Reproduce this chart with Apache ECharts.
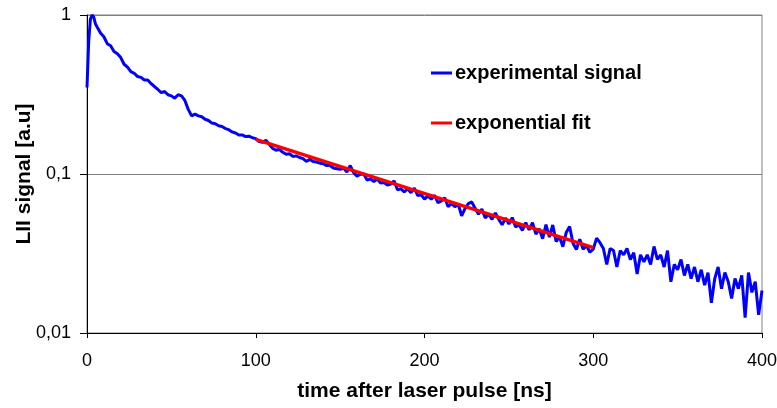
<!DOCTYPE html>
<html>
<head>
<meta charset="utf-8">
<script src="https://cdn.jsdelivr.net/npm/echarts@6/dist/echarts.min.js"></script>
<style>
  html, body { margin: 0; padding: 0; background: #fff; }
  #chart { width: 777px; height: 408px; }
</style>
</head>
<body>
<div id="chart"></div>
<script>
// time after laser pulse [ns]
const sigTime = [0, 1, 2, 3, 4, 5, 6, 8, 10, 12, 14, 16, 18, 20, 22, 24, 26, 28, 30, 32, 34, 36, 38, 40,
  42, 44, 46, 48, 50, 52, 54, 56, 58, 60, 62, 64, 66, 68, 70, 72, 74, 76, 78, 80, 82, 84, 86, 88, 90,
  92, 94, 96, 98, 100, 102, 104, 106, 108, 110, 112, 114, 116, 118, 120, 122, 124, 126, 128, 130,
  132, 134, 136, 138, 140, 142, 144, 146, 148, 150, 152, 154, 156, 158, 160, 162, 164, 166, 168, 170,
  172, 174, 176, 178, 180, 182, 184, 186, 188, 190, 192, 194, 196, 198, 200, 202, 204, 206, 208, 210,
  212, 214, 216, 218, 220, 222, 224, 226, 228, 230, 232, 234, 236, 238, 240, 242, 244, 246, 248, 250,
  252, 254, 256, 258, 260, 262, 264, 266, 268, 270, 272, 274, 276, 278, 280, 282, 284, 286, 288, 290,
  292, 294, 296, 298, 300, 302, 304, 306, 308, 310, 312, 314, 316, 318, 320, 322, 324, 326, 328, 330,
  332, 334, 336, 338, 340, 342, 344, 346, 348, 350, 352, 354, 356, 358, 360, 362, 364, 366, 368, 370,
  372, 374, 376, 378, 380, 382, 384, 386, 388, 390, 392, 394, 396, 398, 400]
// experimental signal [a.u]
const sigValue = [0.35, 0.68, 0.94, 1.0, 0.97, 0.88, 0.84, 0.77, 0.73, 0.66, 0.64, 0.59, 0.57, 0.54, 0.49, 0.47,
  0.44, 0.43, 0.41, 0.405, 0.39, 0.39, 0.37, 0.355, 0.34, 0.325, 0.33, 0.315, 0.31, 0.30, 0.315, 0.31,
  0.29, 0.255, 0.232, 0.238, 0.232, 0.229, 0.221, 0.217, 0.209, 0.207, 0.201, 0.199, 0.193, 0.190,
  0.184, 0.181, 0.176, 0.176, 0.172, 0.173, 0.169, 0.167, 0.160, 0.158, 0.163, 0.154, 0.145, 0.141,
  0.143, 0.137, 0.133, 0.134, 0.129, 0.130, 0.127, 0.125, 0.120, 0.124, 0.120, 0.119, 0.117, 0.116,
  0.113, 0.113, 0.109, 0.108, 0.107, 0.109, 0.103, 0.113, 0.102, 0.097, 0.0997, 0.100, 0.0916, 0.0931,
  0.0898, 0.0931, 0.0879, 0.0884, 0.0852, 0.0865, 0.0904, 0.0795, 0.0808, 0.0771, 0.0808, 0.0763,
  0.0815, 0.0731, 0.0743, 0.0695, 0.0728, 0.0694, 0.0734, 0.0659, 0.0677, 0.0708, 0.0622, 0.0653,
  0.0622, 0.0645, 0.0546, 0.0606, 0.0652, 0.0667, 0.0608, 0.0558, 0.0601, 0.0529, 0.056, 0.0518,
  0.057, 0.0518, 0.0479, 0.0528, 0.0485, 0.0532, 0.0464, 0.0481, 0.0441, 0.0495, 0.0445, 0.0494,
  0.0419, 0.0452, 0.0392, 0.048, 0.0401, 0.0478, 0.0376, 0.0403, 0.0349, 0.0429, 0.0468, 0.0367,
  0.0335, 0.0389, 0.0336, 0.0355, 0.0322, 0.0337, 0.0395, 0.037, 0.034, 0.027, 0.034, 0.033, 0.026,
  0.033, 0.031, 0.034, 0.029, 0.032, 0.0235, 0.031, 0.028, 0.031, 0.027, 0.035, 0.029, 0.031, 0.026,
  0.033, 0.021, 0.027, 0.025, 0.029, 0.023, 0.027, 0.022, 0.026, 0.021, 0.025, 0.020, 0.024, 0.0155,
  0.022, 0.026, 0.019, 0.024, 0.021, 0.0165, 0.022, 0.019, 0.023, 0.0125, 0.024, 0.018, 0.021, 0.013,
  0.0185]
// exponential fit, end points (straight on log axis)
const fitTime = [100, 300]
const fitValue = [0.165, 0.0344]

const xTicks = [0, 100, 200, 300, 400]

const font = '"Liberation Sans", Arial, sans-serif'

const chart = echarts.init(document.getElementById('chart'), null, { renderer: 'canvas' })

chart.setOption({
  animation: false,
  backgroundColor: '#fff',
  grid: {
    left: 87, right: 15, top: 15, bottom: 75,
    outerBoundsMode: 'none',
    containLabel: false,
    show: true, borderColor: '#808080', borderWidth: 1
  },
  legend: {
    orient: 'vertical',
    left: 431, top: 63,
    padding: 0,
    itemWidth: 21, itemHeight: 3, itemGap: 30,
    icon: 'rect',
    textStyle: { fontFamily: font, fontSize: 20, fontWeight: 'bold', color: '#000', padding: [0, 0, 0, -2] },
    data: ['experimental signal', 'exponential fit']
  },
  xAxis: {
    type: 'value',
    min: xTicks[0], max: xTicks[xTicks.length - 1], interval: 100,
    name: 'time after laser pulse [ns]',
    nameLocation: 'middle', nameGap: 48, nameMoveOverlap: false,
    nameTextStyle: { fontFamily: font, fontSize: 21, fontWeight: 'bold', color: '#000' },
    axisLine: { lineStyle: { color: '#000', width: 1 } },
    axisTick: { show: true, length: 5, lineStyle: { color: '#000' } },
    axisLabel: { fontFamily: font, fontSize: 18, color: '#000', margin: 19 },
    splitLine: { show: false }
  },
  yAxis: {
    type: 'log', logBase: 10,
    min: 0.01, max: 1,
    name: 'LII signal [a.u]',
    nameLocation: 'middle', nameGap: 52, nameRotate: 90, nameMoveOverlap: false,
    nameTextStyle: { fontFamily: font, fontSize: 21, fontWeight: 'bold', color: '#000' },
    axisLine: { show: true, lineStyle: { color: '#000', width: 1 } },
    axisTick: { show: true, length: 7, lineStyle: { color: '#000' } },
    minorTick: { show: false },
    axisLabel: {
      fontFamily: font, fontSize: 18, color: '#000', margin: 16,
      formatter: v => String(v).replace('.', ',')
    },
    splitLine: { show: true, lineStyle: { color: '#808080', width: 1 } }
  },
  series: [
    {
      name: 'experimental signal',
      type: 'line',
      data: sigTime.map((t, i) => [t, sigValue[i]]),
      showSymbol: false,
      symbol: 'none',
      color: '#0000ff',
      lineStyle: { color: '#0000ff', width: 3 },
      z: 2
    },
    {
      name: 'exponential fit',
      type: 'line',
      data: fitTime.map((t, i) => [t, fitValue[i]]),
      showSymbol: false,
      symbol: 'none',
      color: '#ff0000',
      lineStyle: { color: '#ff0000', width: 3.5 },
      z: 3
    }
  ]
})
</script>
</body>
</html>
